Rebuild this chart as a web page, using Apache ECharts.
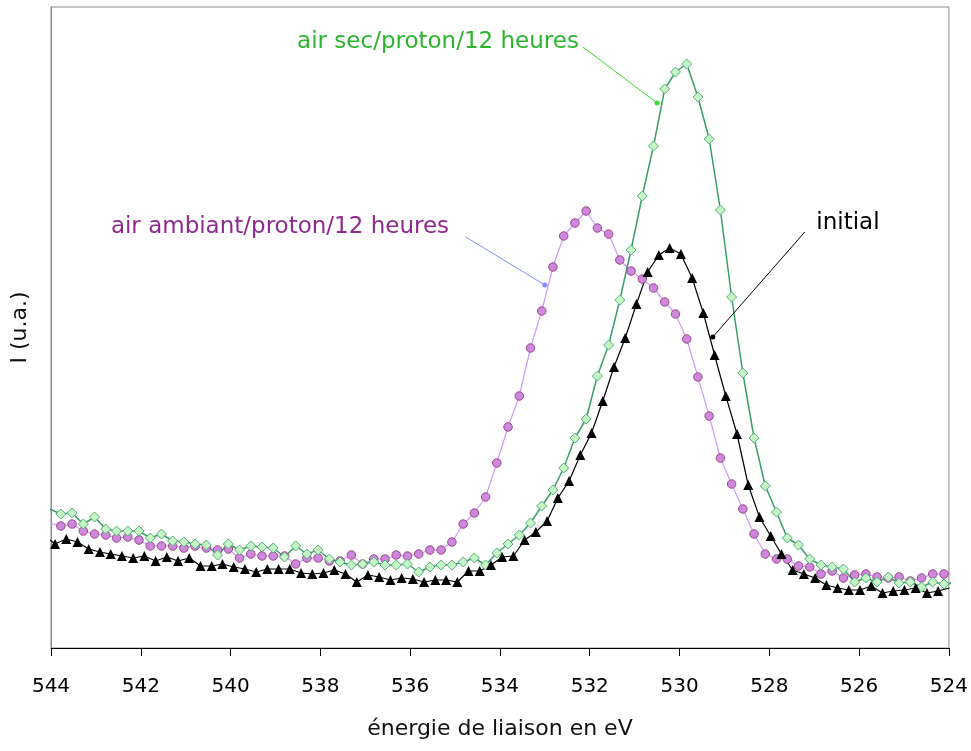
<!DOCTYPE html>
<html lang="fr">
<head>
    <meta charset="UTF-8">
    <script src="https://cdn.jsdelivr.net/npm/echarts@6/dist/echarts.min.js"></script>
    <title>Spectre O 1s</title>
    <style>
        html, body { margin: 0; padding: 0; background: #fff; }
    </style>
</head>
<body>
    <div id="main" style="width:971px;height:751px"></div>
    <script>
        // energies de liaison (eV) - grille du spectre "initial"
        var energyInitial = [544.16, 543.91, 543.66, 543.41, 543.16, 542.91, 542.67, 542.42, 542.17, 541.92, 541.67,
            541.42, 541.17, 540.92, 540.67, 540.42, 540.18, 539.93, 539.68, 539.43, 539.18,
            538.93, 538.68, 538.43, 538.18, 537.93, 537.69, 537.44, 537.19, 536.94, 536.69,
            536.44, 536.19, 535.94, 535.69, 535.44, 535.20, 534.95, 534.70, 534.45, 534.20,
            533.95, 533.70, 533.45, 533.20, 532.95, 532.71, 532.46, 532.21, 531.96, 531.71,
            531.46, 531.21, 530.96, 530.71, 530.46, 530.22, 529.97, 529.72, 529.47, 529.22,
            528.97, 528.72, 528.47, 528.22, 527.97, 527.73, 527.48, 527.23, 526.98, 526.73,
            526.48, 526.23, 525.98, 525.73, 525.48, 525.24, 524.99, 524.74, 524.49, 524.24, 523.99];
        // energies de liaison (eV) - grille des spectres apres exposition
        var energyExposed = [544.03, 543.78, 543.53, 543.28, 543.03, 542.78, 542.54, 542.29, 542.04, 541.79, 541.54,
            541.29, 541.04, 540.79, 540.54, 540.29, 540.05, 539.80, 539.55, 539.30, 539.05,
            538.80, 538.55, 538.30, 538.05, 537.80, 537.56, 537.31, 537.06, 536.81, 536.56,
            536.31, 536.06, 535.81, 535.56, 535.31, 535.07, 534.82, 534.57, 534.32, 534.07,
            533.82, 533.57, 533.32, 533.07, 532.82, 532.58, 532.33, 532.08, 531.83, 531.58,
            531.33, 531.08, 530.83, 530.58, 530.33, 530.09, 529.84, 529.59, 529.34, 529.09,
            528.84, 528.59, 528.34, 528.09, 527.84, 527.60, 527.35, 527.10, 526.85, 526.60,
            526.35, 526.10, 525.85, 525.60, 525.35, 525.11, 524.86, 524.61, 524.36, 524.11, 523.86];

        // intensites (u.a.)
        var intInitial = [113, 104, 109, 106, 99, 96, 94, 92, 90, 92, 87,
            91, 87, 90, 82, 82, 84, 81, 79, 76, 79,
            79, 79, 75, 74, 75, 78, 74, 66, 73, 71,
            68, 70, 69, 66, 68, 68, 66, 77, 77, 83,
            91, 92, 108, 116, 127, 150, 167, 193, 215, 247,
            281, 310, 344, 376, 393, 400, 394, 370, 335, 293,
            252, 214, 163, 131, 112, 94, 78, 74, 70, 63,
            60, 58, 58, 62, 55, 57, 58, 60, 55, 57, 60];
        var intAirSec = [139, 134, 135, 124, 131, 119, 117, 117, 117, 110, 114,
            107, 106, 104, 103, 93, 104, 98, 102, 101, 100,
            91, 102, 94, 98, 89, 86, 83, 84, 86, 83,
            83, 84, 76, 81, 83, 83, 86, 90, 83, 95,
            104, 113, 125, 142, 158, 180, 210, 229, 272, 303,
            348, 398, 452, 502, 559, 576, 584, 551, 509, 438,
            351, 275, 210, 162, 136, 110, 103, 89, 83, 81,
            79, 66, 70, 66, 71, 65, 66, 61, 66, 64, 65];
        var intAirAmbiant = [125, 122, 124, 117, 114, 113, 110, 111, 108, 102, 102,
            102, 100, 102, 100, 98, 99, 90, 94, 92, 92,
            92, 84, 90, 90, 87, 87, 93, 84, 89, 89,
            93, 92, 94, 98, 98, 106, 124, 135, 151, 185,
            221, 252, 300, 337, 381, 412, 425, 437, 420, 414,
            388, 377, 369, 360, 346, 334, 309, 271, 232, 190,
            164, 139, 114, 94, 89, 89, 82, 81, 74, 77,
            70, 73, 74, 71, 70, 71, 67, 70, 74, 74, 74];

        var xTicks = [544, 542, 540, 538, 536, 534, 532, 530, 528, 526, 524];

        function pairs(xs, ys) {
            var out = [];
            for (var i = 0; i < xs.length; i++) out.push([xs[i], ys[i]]);
            return out;
        }

        var font = "'DejaVu Sans', Verdana, sans-serif";
        var main = document.getElementById("main");
        var echart = echarts.init(main);
        var option = {
            animation: false,
            backgroundColor: '#fff',
            grid: {
                left: 51, right: 22, top: 7, bottom: 103,
                show: true, borderColor: '#8a8a8a', borderWidth: 1
            },
            xAxis: {
                type: 'value',
                inverse: true,
                min: 524, max: 544, interval: 2,
                name: 'énergie de liaison en eV',
                nameLocation: 'middle',
                nameGap: 70,
                nameTextStyle: { fontFamily: font, fontSize: 22, color: '#111' },
                axisLine: { onZero: false, lineStyle: { color: '#000', width: 1 } },
                axisTick: { show: true, length: 8, lineStyle: { color: '#000' } },
                axisLabel: {
                    margin: 29, fontFamily: font, fontSize: 20, color: '#000',
                    formatter: function (v) { return xTicks.indexOf(v) >= 0 ? String(v) : ''; }
                },
                splitLine: { show: false }
            },
            yAxis: {
                type: 'value',
                min: 0, max: 641,
                name: 'I (u.a.)',
                nameLocation: 'middle',
                nameGap: 20,
                nameTextStyle: { fontFamily: font, fontSize: 22, color: '#111' },
                axisLine: { show: true, lineStyle: { color: '#8a8a8a' } },
                axisTick: { show: false },
                axisLabel: { show: false },
                splitLine: { show: false }
            },
            series: [
                {
                    name: 'air ambiant/proton/12 heures',
                    type: 'line',
                    data: pairs(energyExposed, intAirAmbiant),
                    clip: true,
                    symbol: 'circle',
                    symbolSize: 8.5,
                    lineStyle: { color: '#cc99ff', width: 1.2 },
                    itemStyle: { color: '#cc88dd', borderColor: '#a04488', borderWidth: 1 }
                },
                {
                    name: 'air sec/proton/12 heures',
                    type: 'line',
                    data: pairs(energyExposed, intAirSec),
                    clip: true,
                    symbol: 'diamond',
                    symbolSize: 10,
                    lineStyle: { color: '#3a9e68', width: 1.5 },
                    itemStyle: { color: '#c6f5c6', borderColor: '#52b07a', borderWidth: 1 }
                },
                {
                    name: 'initial',
                    type: 'line',
                    data: pairs(energyInitial, intInitial),
                    clip: true,
                    symbol: 'triangle',
                    symbolSize: 10,
                    lineStyle: { color: '#000', width: 1.2 },
                    itemStyle: { color: '#000' }
                }
            ]
        };
        echart.setOption(option);

        // annotations: texte + trait de rappel (en coordonnees du graphe)
        var notes = [
            { text: 'air sec/proton/12 heures', color: '#2cb52c', lineColor: '#33dd33',
              at: [535.38, 606], from: [532.15, 601], to: [530.50, 545] },
            { text: 'air ambiant/proton/12 heures', color: '#8e2a8e', lineColor: '#7f8cff',
              at: [538.9, 421], from: [534.76, 411], to: [533.0, 363] },
            { text: 'initial', color: '#000', lineColor: '#000',
              at: [526.25, 425], from: [527.21, 416], to: [529.26, 311] }
        ];
        var elements = [];
        notes.forEach(function (n) {
            var p = echart.convertToPixel({ gridIndex: 0 }, n.at);
            var a = echart.convertToPixel({ gridIndex: 0 }, n.from);
            var b = echart.convertToPixel({ gridIndex: 0 }, n.to);
            elements.push({
                type: 'text', x: p[0], y: p[1], z: 10,
                style: { text: n.text, fill: n.color, font: '23px ' + font, textAlign: 'center', textVerticalAlign: 'middle' }
            });
            elements.push({
                type: 'line', z: 10,
                shape: { x1: a[0], y1: a[1], x2: b[0], y2: b[1] },
                style: { stroke: n.lineColor, lineWidth: 1 }
            });
            elements.push({
                type: 'circle', z: 10,
                shape: { cx: b[0], cy: b[1], r: 2.5 },
                style: { fill: n.lineColor }
            });
        });
        echart.setOption({ graphic: elements });
    </script>
</body>
</html>
